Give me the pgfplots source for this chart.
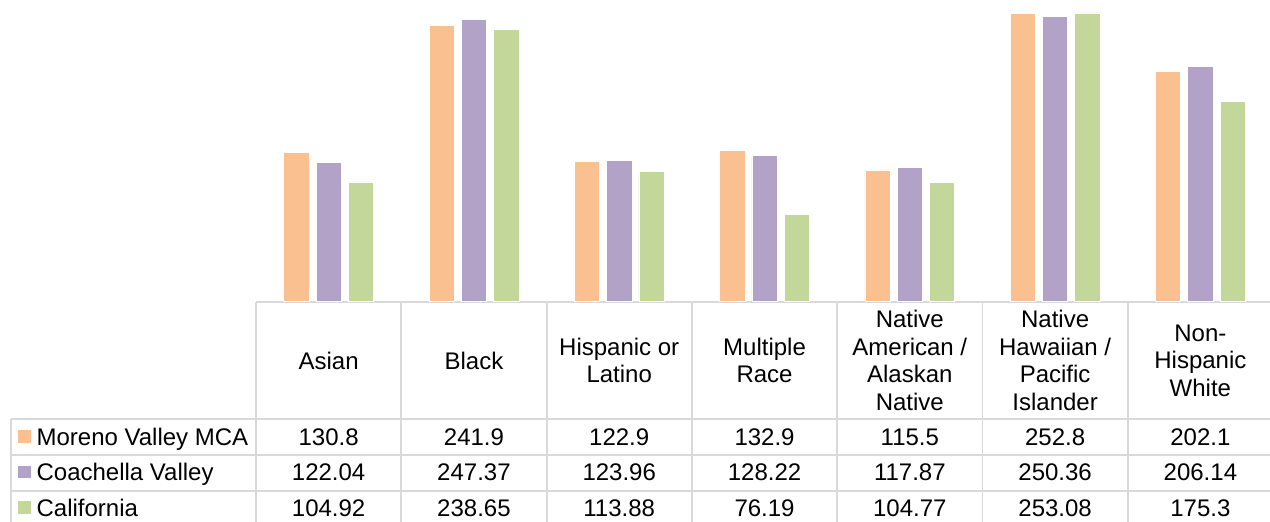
\documentclass[border=0pt]{standalone}
\usepackage{fontspec}
\setmainfont{Liberation Sans}
\usepackage{pgfplots}
\usepackage{pgfplotstable}
\pgfplotsset{compat=1.18}

\definecolor{mvOrange}{HTML}{FAC090}
\definecolor{cvPurple}{HTML}{B3A2C7}
\definecolor{caGreen}{HTML}{C4D79B}
\definecolor{gridGray}{HTML}{D9D9D9}

\newcommand\tabfont{\fontsize{18pt}{20.6pt}\selectfont}

\tikzset{grid line/.style={draw=gridGray, line width=1.4pt}}
\pgfplotsset{value row/.style={draw=none, mark=none, nodes near coords, point meta=explicit symbolic,
    every node near coord/.style={anchor=base, font=\tabfont, inner sep=0pt}}}

% rates by race / ethnicity
\pgfplotstableread{
x mva   cv     ca
0 130.8 122.04 104.92
1 241.9 247.37 238.65
2 122.9 123.96 113.88
3 132.9 128.22 76.19
4 115.5 117.87 104.77
5 252.8 250.36 253.08
6 202.1 206.14 175.3
}\rates

\begin{document}
\begin{tikzpicture}
\begin{axis}[
  x=108.975pt, y=0.85575pt,
  xmin=-0.5, xmax=6.5, ymin=0, ymax=264.4,
  clip=false,
  hide y axis,
  axis x line*=bottom,
  x axis line style={draw=gridGray, line width=1.4pt, -},
  xtick={0,...,6},
  major tick length=0pt,
  xticklabels={Asian, Black, {Hispanic or\\Latino}, {Multiple\\Race},
    {Native\\American /\\Alaskan\\Native}, {Native\\Hawaiian /\\Pacific\\Islander},
    {Non-\\Hispanic\\White}},
  xticklabel style={anchor=center, yshift=-44.1pt, align=center, font=\tabfont, inner sep=0pt},
]
% bars
\addplot[ybar, bar width=0.174, bar shift=-0.2223, fill=mvOrange, draw=white, line width=0.5pt]
  table[x=x, y=mva] {\rates};
\addplot[ybar, bar width=0.174, bar shift=0, fill=cvPurple, draw=white, line width=0.5pt]
  table[x=x, y=cv] {\rates};
\addplot[ybar, bar width=0.174, bar shift=0.2223, fill=caGreen, draw=white, line width=0.5pt]
  table[x=x, y=ca] {\rates};

% data table grid
\pgfplotsinvokeforeach{-0.5,0.5,1.5,2.5,3.5,4.5,5.5,6.5}{
  \draw[grid line] (axis cs:#1,0) -- (axis cs:#1,-200);
}
\pgfplotsinvokeforeach{-103.1,-134.4,-165.6}{
  \draw[grid line] (axis cs:-2.189,#1) -- (axis cs:6.5,#1);
}
\draw[grid line] (axis cs:-2.189,-103.1) -- (axis cs:-2.189,-200);

% data table values
\addplot[value row] table[x=x, y expr=-126.0, meta=mva] {\rates};
\addplot[value row] table[x=x, y expr=-157.0, meta=cv] {\rates};
\addplot[value row] table[x=x, y expr=-188.2, meta=ca] {\rates};

% row labels with legend keys
\fill[mvOrange] (axis cs:-2.136,-112.5) rectangle (axis cs:-2.049,-123.6);
\fill[cvPurple] (axis cs:-2.136,-143.8) rectangle (axis cs:-2.049,-154.9);
\fill[caGreen]  (axis cs:-2.136,-175.1) rectangle (axis cs:-2.049,-186.2);
\node[anchor=base west, font=\tabfont, inner sep=0pt] at (axis cs:-2.012,-126.0) {Moreno Valley MCA};
\node[anchor=base west, font=\tabfont, inner sep=0pt] at (axis cs:-2.012,-157.0) {Coachella Valley};
\node[anchor=base west, font=\tabfont, inner sep=0pt] at (axis cs:-2.012,-188.2) {California};

\coordinate (bbsw) at (axis cs:-2.262,-193.07);
\coordinate (bbne) at (axis cs:6.479,264.4);
\end{axis}
\pgfresetboundingbox
\path[use as bounding box] (bbsw) rectangle (bbne);
\end{tikzpicture}
\end{document}
